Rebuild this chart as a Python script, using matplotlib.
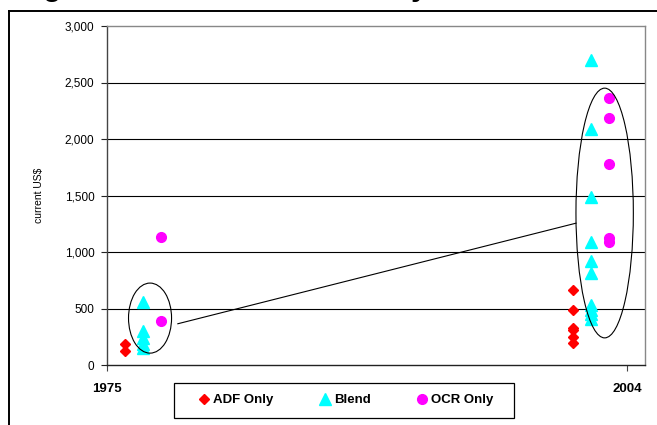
"""Unit cost by technology, 1975 vs 2004 (current US$)."""

import matplotlib
matplotlib.use("Agg")
import matplotlib.pyplot as plt
from matplotlib.patches import Ellipse, Rectangle
from matplotlib.lines import Line2D

plt.rcParams['font.family'] = ['Liberation Sans', 'DejaVu Sans']

# ── data ─────────────────────────────────────────
adf_years = [1976, 1976, 2001, 2001, 2001, 2001, 2001, 2001]
adf_cost = [190, 120, 660, 485, 330, 310, 250, 195]

blend_years = [1977] * 5 + [2002] * 10
blend_cost = [560, 300, 240, 190, 150,
              2700, 2090, 1490, 1090, 920, 810, 530, 490, 450, 410]

ocr_years = [1978, 1978, 2003, 2003, 2003, 2003, 2003]
ocr_cost = [1130, 390, 2360, 2190, 1780, 1120, 1090]

# groups circled on the chart: (centre year, centre cost, width yrs, height cost)
group_1975 = (1977.4, 415, 2.4, 620)
group_2004 = (2002.75, 1345, 3.2, 2210)
# plain connector between the two groups
link_years = [1978.95, 2001.15]
link_cost = [365, 1255]

x_ticks = [1975, 2004]
y_ticks = [0, 500, 1000, 1500, 2000, 2500, 3000]

# ── figure ───────────────────────────────────────
fig = plt.figure(figsize=(6.57, 4.25), dpi=100)
ax = fig.add_axes([107 / 657, 1 - 365 / 425, 538 / 657, 339 / 425])

ax.set_xlim(1975, 2005)
ax.set_ylim(0, 3000)

for y in y_ticks[1:-1]:
    ax.axhline(y, color='black', lw=0.8, zorder=1)

ax.plot(adf_years, adf_cost, 'D', color='#ff0000', ms=5, mec='#ff0000',
        ls='none', zorder=3, label='ADF Only')
ax.plot(blend_years, blend_cost, '^', color='#00ffff', ms=8, mec='#00ffff',
        ls='none', zorder=3, label='Blend')
ax.plot(ocr_years, ocr_cost, 'o', color='#ff00ff', ms=7, mec='#ff00ff',
        ls='none', zorder=3, label='OCR Only')

for cx, cy, w, h in (group_1975, group_2004):
    ax.add_patch(Ellipse((cx, cy), w, h, fill=False, ec='black', lw=0.8,
                         zorder=4))
ax.plot(link_years, link_cost, color='black', lw=0.8, zorder=4)

ax.set_xticks(x_ticks)
ax.set_xticklabels([str(t) for t in x_ticks], fontweight='bold', fontsize=9.5)
ax.set_yticks(y_ticks)
ax.set_yticklabels([f'{t:,}' for t in y_ticks], fontsize=8.5)
ax.tick_params(axis='x', length=4, pad=9, color='#444444')
ax.tick_params(axis='y', length=4, pad=5, color='#222222')
ax.set_ylabel('current US$', fontsize=7.5, labelpad=15)

for side in ('top', 'right'):
    ax.spines[side].set_color('#888888')
ax.spines['left'].set_color('#444444')
ax.spines['bottom'].set_color('#222222')
for sp in ax.spines.values():
    sp.set_linewidth(1.0)

# legend box drawn separately so the entries keep their own spacing
fig.add_artist(Rectangle((174 / 657, 1 - 418 / 425), 340 / 657, 35 / 425,
                         transform=fig.transFigure, fill=False,
                         ec='black', lw=0.9))
fig.legend(loc='center', ncol=3,
           bbox_to_anchor=(346 / 657, 1 - 400 / 425),
           prop={'weight': 'bold', 'size': 9.5}, frameon=False,
           handlelength=0.8, handletextpad=0.3, columnspacing=3.5)

# outer chart frame (cut by the image edges)
fig.add_artist(Line2D([9 / 657, 9 / 657], [0, 1 - 11 / 425],
                      transform=fig.transFigure, color='black', lw=1.4))
fig.add_artist(Line2D([9 / 657, 1], [1 - 11 / 425, 1 - 11 / 425],
                      transform=fig.transFigure, color='black', lw=1.4))

# the title sits above the image, only its descenders show
fig.text(43 / 657, 1 + 5 / 425, 'g', fontsize=22, fontweight='bold',
         va='baseline')
fig.text(411 / 657, 1 + 5 / 425, 'y', fontsize=22, fontweight='bold',
         va='baseline')

fig.savefig('out.png', dpi=100)
